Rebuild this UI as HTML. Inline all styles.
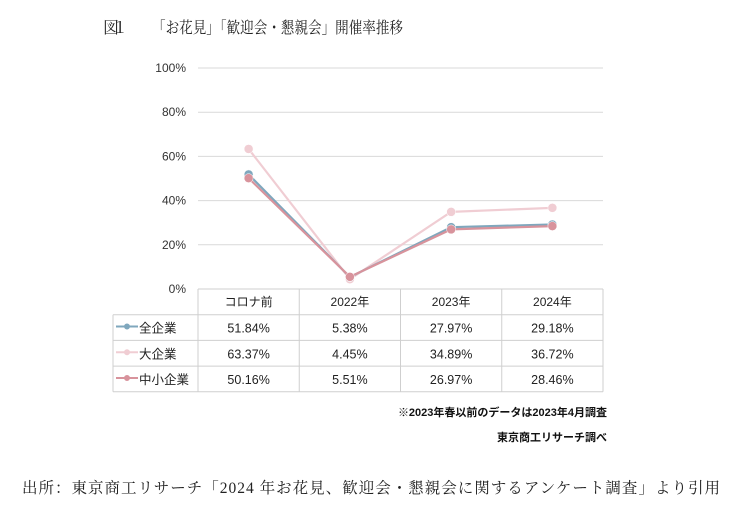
<!DOCTYPE html>
<html><head><meta charset="utf-8"><style>
body{margin:0;background:#fff;width:750px;height:513px;overflow:hidden}
svg{display:block}
.ser{font-family:"Liberation Serif","Noto Serif CJK SC","Noto Sans CJK JP",serif}
.sans{font-family:"Liberation Sans","Noto Sans CJK JP",sans-serif}
</style></head><body>
<svg id="chart" width="750" height="513" xmlns="http://www.w3.org/2000/svg">
<text class="ser" x="103" y="33" font-size="16" fill="#222" textLength="25">図１</text>
<text class="ser" x="152" y="33" font-size="16" fill="#222" textLength="251" lengthAdjust="spacingAndGlyphs">「お花見」「歓迎会・懇親会」開催率推移</text>
<g id="grid"></g>
<g id="table"></g>
<g id="lines"></g>
<text class="sans" x="607" y="416" font-size="11" font-weight="bold" text-anchor="end" fill="#111">※2023年春以前のデータは2023年4月調査</text>
<text class="sans" x="607" y="441" font-size="11" font-weight="bold" text-anchor="end" fill="#111">東京商工リサーチ調べ</text>
<text class="ser" x="22" y="493" font-size="15.5" fill="#222" textLength="698">出所：東京商工リサーチ「2024 年お花見、歓迎会・懇親会に関するアンケート調査」より引用</text>
</svg>
<script>
const categories=["コロナ前","2022年","2023年","2024年"];
const seriesNames=["全企業","大企業","中小企業"];
const allCompanies=[51.84,5.38,27.97,29.18];
const largeCompanies=[63.37,4.45,34.89,36.72];
const smeCompanies=[50.16,5.51,26.97,28.46];
const yTicks=[0,20,40,60,80,100];
const NS="http://www.w3.org/2000/svg";
const colors=["#7fa7bd","#f0cdd3","#d8939c"];
const series=[allCompanies,largeCompanies,smeCompanies];
const x0=198,x1=603,y0=289,y1=68;
const bw=(x1-x0)/categories.length;
const xs=i=>x0+bw*(i+0.5);
const ys=v=>y0-(v/100)*(y0-y1);
function mk(tag,attrs,parent,txt){const e=document.createElementNS(NS,tag);for(const k in attrs)e.setAttribute(k,attrs[k]);if(txt!==undefined)e.textContent=txt;parent.appendChild(e);return e;}
const grid=document.getElementById('grid');
yTicks.forEach(t=>{
  if(t>0){const l=mk('line',{x1:x0,x2:x1,y1:ys(t),y2:ys(t),stroke:'#d9d9d9','stroke-width':1},grid);
  
  }
  const tx=mk('text',{x:186,y:ys(t)+4,'font-size':12,'text-anchor':'end',fill:'#333',class:'sans'},grid,t+'%');
  
  
});
const tb=document.getElementById('table');
const rowH=25.7,lx=113;
const rowsY=[y0,y0+rowH,y0+2*rowH,y0+3*rowH,y0+4*rowH];
const border='#cfcfcf';
mk('line',{x1:x0,x2:x1,y1:y0,y2:y0,stroke:border},tb);
for(let r=1;r<=4;r++){mk('line',{x1:lx,x2:x1,y1:rowsY[r],y2:rowsY[r],stroke:border},tb);}
for(let c=0;c<=4;c++){mk('line',{x1:x0+bw*c,x2:x0+bw*c,y1:y0,y2:rowsY[4],stroke:border},tb);}
mk('line',{x1:lx,x2:lx,y1:rowsY[1],y2:rowsY[4],stroke:border},tb);
categories.forEach((c,i)=>{
  const t=mk('text',{x:xs(i),y:y0+17,'font-size':12,'text-anchor':'middle',fill:'#222',class:'sans'},tb,c);
  
  
});
series.forEach((s,r)=>{
  const yy=rowsY[r+1]+rowH/2;
  mk('line',{x1:lx+3,x2:lx+25,y1:yy-1,y2:yy-1,stroke:colors[r],'stroke-width':2},tb);
  const m=mk('circle',{cx:lx+14,cy:yy-1,r:2.5,fill:colors[r],stroke:colors[r]},tb);
  
  
  const n=mk('text',{x:lx+26,y:yy+5,'font-size':12.5,fill:'#222',class:'sans'},tb,seriesNames[r]);
  
  
  s.forEach((v,i)=>{
    const t=mk('text',{x:xs(i),y:yy+5,'font-size':12.5,'text-anchor':'middle',fill:'#222',class:'sans'},tb,v.toFixed(2)+'%');
    
    
  });
});
const lg=document.getElementById('lines');
[1,0,2].forEach(r=>{
  const s=series[r];
  const p=mk('polyline',{points:s.map((v,i)=>xs(i)+','+ys(v)).join(' '),fill:'none',stroke:colors[r],'stroke-width':2.2},lg);
  
  
  s.forEach((v,i)=>{
    const c=mk('circle',{cx:xs(i),cy:ys(v),r:4.5,fill:colors[r],stroke:'#fff','stroke-width':0.5},lg);
    
    
  });
});
</script>
</body></html>
